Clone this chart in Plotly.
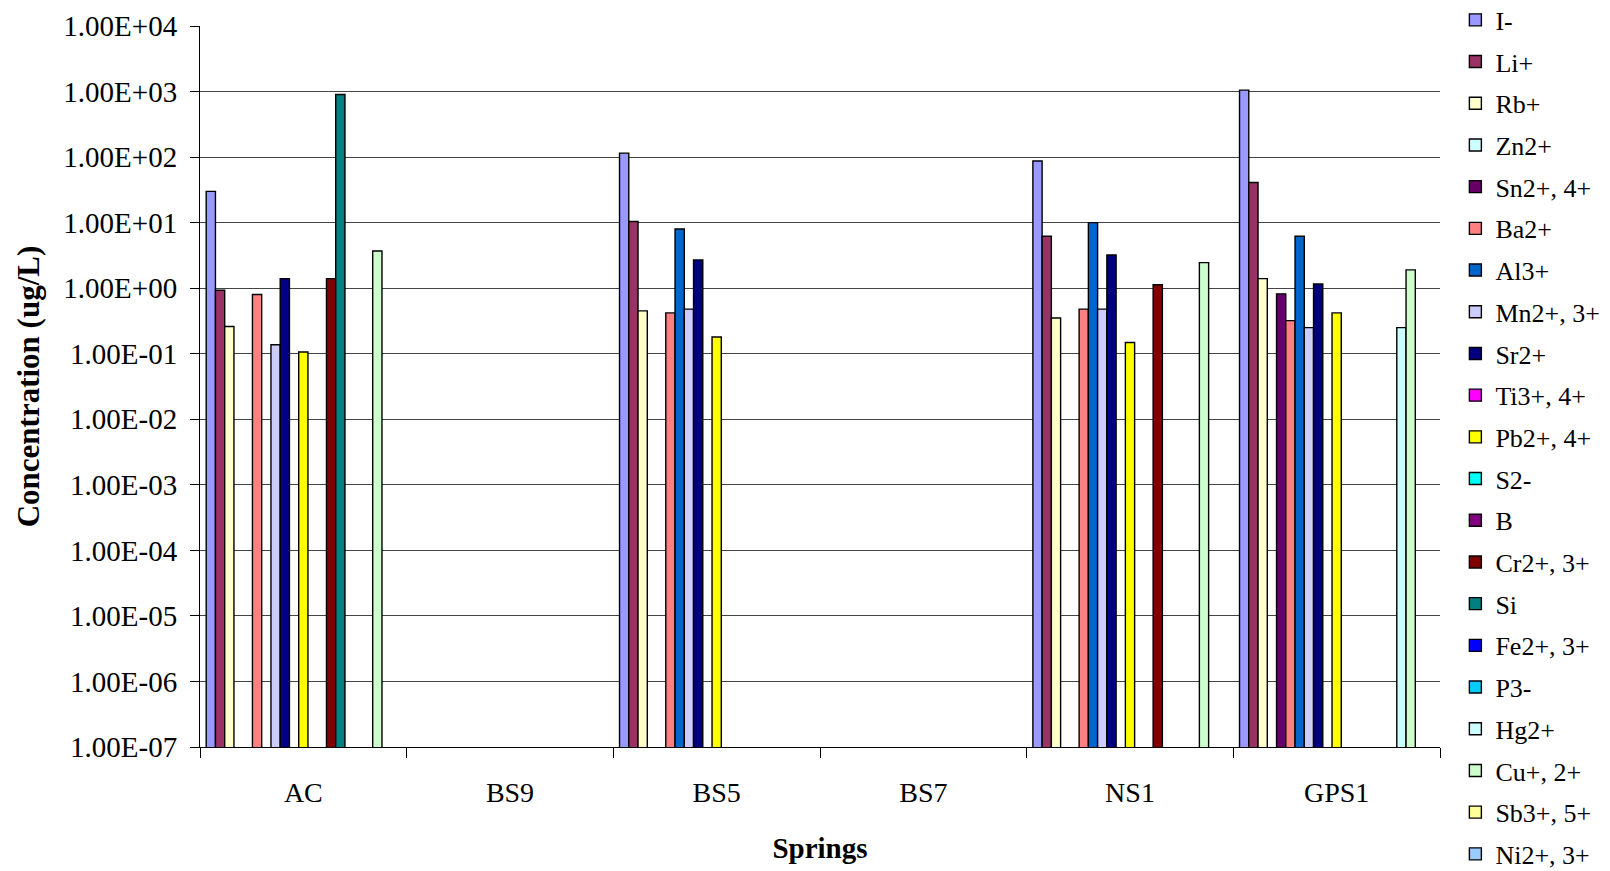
import plotly.graph_objects as go

springs = ["AC", "BS9", "BS5", "BS7", "NS1", "GPS1"]

ions = ["I-", "Li+", "Rb+", "Zn2+", "Sn2+, 4+", "Ba2+", "Al3+", "Mn2+, 3+", "Sr2+",
        "Ti3+, 4+", "Pb2+, 4+", "S2-", "B", "Cr2+, 3+", "Si", "Fe2+, 3+", "P3-",
        "Hg2+", "Cu+, 2+", "Sb3+, 5+", "Ni2+, 3+"]

colors = ["#9999FF", "#993366", "#FFFFCC", "#CCFFFF", "#660066", "#FF8080", "#0066CC",
          "#CCCCFF", "#000080", "#FF00FF", "#FFFF00", "#00FFFF", "#800080", "#800000",
          "#008080", "#0000FF", "#00CCFF", "#CCFFFF", "#CCFFCC", "#FFFF99", "#99CCFF"]

# values per ion for [AC, BS9, BS5, BS7, NS1, GPS1] (ug/L); None = not detected
I_minus = [30, None, 115, None, 87, 1050]
Li = [0.93, None, 10.4, None, 6.2, 41]
Rb = [0.26, None, 0.45, None, 0.35, 1.4]
Zn = [None, None, None, None, None, None]
Sn = [None, None, None, None, None, 0.82]
Ba = [0.8, None, 0.42, None, 0.48, 0.32]
Al = [None, None, 8.0, None, 10, 6.2]
Mn = [0.137, None, 0.48, None, 0.48, 0.25]
Sr = [1.4, None, 2.7, None, 3.2, 1.16]
Ti = [None, None, None, None, None, None]
Pb = [0.106, None, 0.18, None, 0.148, 0.42]
S = [None, None, None, None, None, None]
B = [None, None, None, None, None, None]
Cr = [1.4, None, None, None, 1.13, None]
Si = [900, None, None, None, None, None]
Fe = [None, None, None, None, None, None]
P = [None, None, None, None, None, None]
Hg = [None, None, None, None, None, 0.25]
Cu = [3.7, None, None, None, 2.45, 1.9]
Sb = [None, None, None, None, None, None]
Ni = [None, None, None, None, None, None]

series = [I_minus, Li, Rb, Zn, Sn, Ba, Al, Mn, Sr, Ti, Pb, S, B, Cr, Si, Fe, P, Hg, Cu, Sb, Ni]

ytick_vals = [1e-7, 1e-6, 1e-5, 1e-4, 1e-3, 1e-2, 1e-1, 1e0, 1e1, 1e2, 1e3, 1e4]
ytick_text = ["1.00E-07", "1.00E-06", "1.00E-05", "1.00E-04", "1.00E-03", "1.00E-02",
              "1.00E-01", "1.00E+00", "1.00E+01", "1.00E+02", "1.00E+03", "1.00E+04"]

FONT = "Liberation Serif, Times New Roman, serif"

fig = go.Figure()
for name, vals, col in zip(ions, series, colors):
    fig.add_trace(go.Bar(
        x=springs, y=vals, name=name, legendgroup=name,
        marker=dict(color=col, line=dict(color="black", width=1.4)),
    ))

fig.update_layout(
    width=1602, height=863,
    paper_bgcolor="white", plot_bgcolor="white",
    barmode="group", bargap=0.06, bargroupgap=0,
    margin=dict(l=192, r=170, t=18, b=124, autoexpand=False),
    font=dict(family=FONT, color="black"),
    legend=dict(
        x=1.0124, xanchor="left",
        yref="paper", y=1.041, yanchor="top",
        font=dict(family=FONT, size=26, color="black"),
        tracegroupgap=4.9, bgcolor="rgba(0,0,0,0)",
        maxheight=1000,
    ),
    showlegend=True,
)

fig.update_yaxes(
    type="log", range=[-7, 4],
    tickvals=ytick_vals, ticktext=ytick_text,
    tickfont=dict(family=FONT, size=29, color="black"),
    ticks="outside", ticklen=9, tickcolor="black", tickwidth=1,
    showline=True, linecolor="black", linewidth=1,
    showgrid=True, gridcolor="#444444", gridwidth=1,
    zeroline=False, automargin=False,
    ticklabelstandoff=7,
    title=dict(text="<b>Concentration (ug/L)</b>", font=dict(family=FONT, size=31, color="black"),
               standoff=14),
)

fig.update_xaxes(
    tickson="boundaries",
    ticks="outside", ticklen=10, tickcolor="black", tickwidth=1,
    showline=True, linecolor="black", linewidth=1,
    showgrid=False, automargin=False,
    tickfont=dict(family=FONT, size=28, color="black"),
    ticklabelstandoff=20,
    title=dict(text="<b>Springs</b>", font=dict(family=FONT, size=29, color="black"),
               standoff=31),
)

fig.write_html("out.html")
